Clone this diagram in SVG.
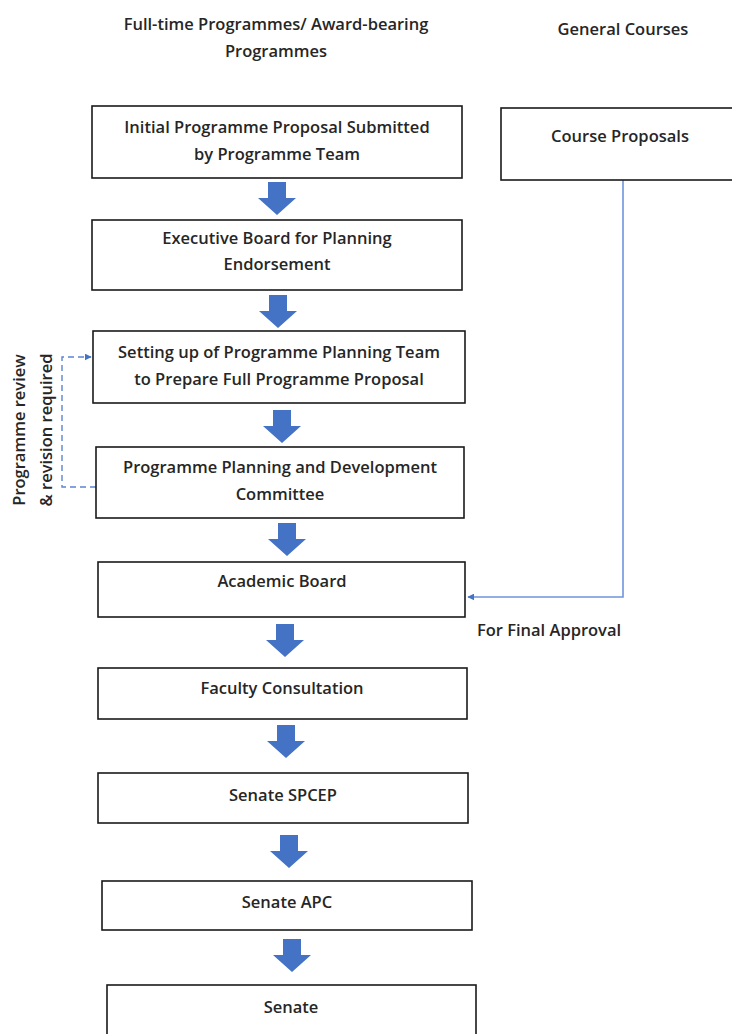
<svg xmlns="http://www.w3.org/2000/svg" width="732" height="1034" viewBox="0 0 732 1034">
<style>
.box{fill:#fff;stroke:#1a1a1a;stroke-width:1.6}
.t{font-family:"Open Sans","Liberation Sans",sans-serif;font-size:16.5px;font-weight:600;fill:#262626;text-anchor:middle}
.blk{fill:#4472C4}
.link{fill:none;stroke:#6F95DC;stroke-width:1.6}
.dash{fill:none;stroke:#5B84D4;stroke-width:1.4;stroke-dasharray:6 4}
</style>
<defs>
<marker id="ah" viewBox="0 0 10 10" refX="9" refY="5" markerWidth="7" markerHeight="7" orient="auto" markerUnits="userSpaceOnUse">
<path d="M0,0 L10,5 L0,10 z" fill="#4472C4"/>
</marker>
<path id="bar" d="M-9,0 H9 V16 H19 L0,33 L-19,16 H-9 Z"/>
</defs>
<rect width="732" height="1034" fill="#fff"/>
<g id="headers">
<text class="t" x="276" y="30">Full-time Programmes/ Award-bearing</text>
<text class="t" x="276" y="57">Programmes</text>
<text class="t" x="623" y="35">General Courses</text>
</g>
<g id="connectors">
<use href="#bar" class="blk" x="277" y="182"/>
<use href="#bar" class="blk" x="278" y="295"/>
<use href="#bar" class="blk" x="282" y="410"/>
<use href="#bar" class="blk" x="287" y="523"/>
<use href="#bar" class="blk" x="285" y="624"/>
<use href="#bar" class="blk" x="286" y="725"/>
<use href="#bar" class="blk" x="289" y="835"/>
<use href="#bar" class="blk" x="292" y="939"/>
<path class="link" d="M623,180 V597 H468" marker-end="url(#ah)"/>
<path class="dash" d="M96,487 H62 V357 H91" marker-end="url(#ah)"/>
<text class="t" x="549" y="636">For Final Approval</text>
<text class="t" transform="translate(25,430) rotate(-90)">Programme review</text>
<text class="t" transform="translate(52,430) rotate(-90)">&amp; revision required</text>
</g>
<g id="n1"><rect class="box" x="92" y="106" width="370" height="72"/>
<text class="t" x="277" y="133">Initial Programme Proposal Submitted</text>
<text class="t" x="277" y="160">by Programme Team</text></g>
<g id="n_course"><rect class="box" x="501" y="108" width="240" height="72"/>
<text class="t" x="620" y="142">Course Proposals</text></g>
<g id="n2"><rect class="box" x="92" y="220" width="370" height="70"/>
<text class="t" x="277" y="244">Executive Board for Planning</text>
<text class="t" x="277" y="270">Endorsement</text></g>
<g id="n3"><rect class="box" x="93" y="331" width="372" height="72"/>
<text class="t" x="279" y="358">Setting up of Programme Planning Team</text>
<text class="t" x="279" y="385">to Prepare Full Programme Proposal</text></g>
<g id="n4"><rect class="box" x="96" y="447" width="368" height="71"/>
<text class="t" x="280" y="473">Programme Planning and Development</text>
<text class="t" x="280" y="500">Committee</text></g>
<g id="n5"><rect class="box" x="98" y="562" width="367" height="55"/>
<text class="t" x="282" y="587">Academic Board</text></g>
<g id="n6"><rect class="box" x="98" y="668" width="369" height="51"/>
<text class="t" x="282" y="694">Faculty Consultation</text></g>
<g id="n7"><rect class="box" x="98" y="773" width="370" height="50"/>
<text class="t" x="283" y="801">Senate SPCEP</text></g>
<g id="n8"><rect class="box" x="102" y="881" width="370" height="49"/>
<text class="t" x="287" y="908">Senate APC</text></g>
<g id="n9"><rect class="box" x="107" y="985" width="369" height="60"/>
<text class="t" x="291" y="1013">Senate</text></g>
</svg>
